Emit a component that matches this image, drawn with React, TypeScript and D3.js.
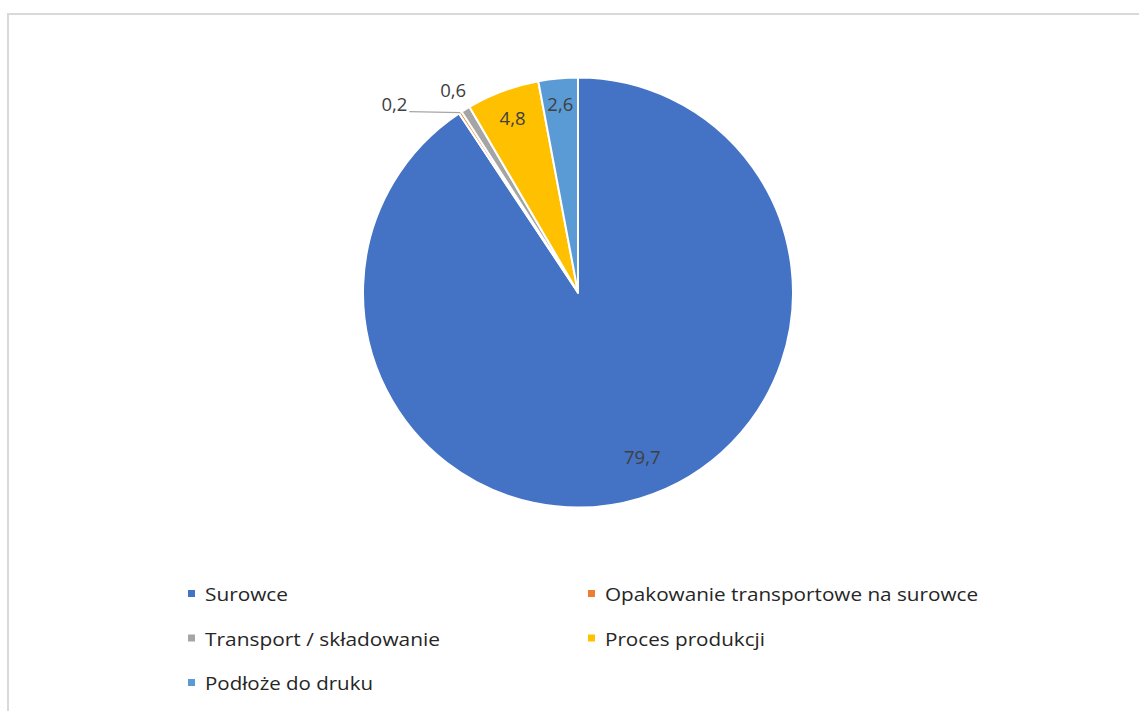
import React from "react";
import * as d3 from "d3";

const categories = [
  "Surowce",
  "Opakowanie transportowe na surowce",
  "Transport / składowanie",
  "Proces produkcji",
  "Podłoże do druku",
];
const values = [79.7, 0.2, 0.6, 4.8, 2.6];
const valueLabels = ["79,7", "0,2", "0,6", "4,8", "2,6"];
const colors = ["#4472C4", "#ED7D31", "#A5A5A5", "#FFC000", "#5B9BD5"];
// label placement: radius factor and angle shift (deg); mode
const labelRadius = [0.82, 1.0, 1.11, 0.87, 0.885];
const labelAngleShift = [-4.6, 0, 0, 0, 0];
const legendOrder = [0, 1, 2, 3, 4];

const W = 1139;
const H = 711;
const cx = 578;
const cy = 292.5;
const R = 215;

export default function App() {
  const pie = d3
    .pie<number>()
    .sort(null)
    .value((d) => d)
    .startAngle(0)
    .endAngle(2 * Math.PI);
  const arcs = pie(values);
  const arcGen = d3.arc<d3.PieArcDatum<number>>().innerRadius(0).outerRadius(R);

  const polar = (angleRad: number, r: number) => [
    cx + Math.sin(angleRad) * r,
    cy - Math.cos(angleRad) * r,
  ];

  const legendX = d3.scalePoint<number>().domain([0, 1]).range([188, 588]);
  const legendY = d3.scaleLinear().domain([0, 2]).range([601, 690]);

  const legendWidths = [83, 373, 235, 160, 168];

  return (
    <svg
      width={W}
      height={H}
      style={{ position: "absolute", left: 0, top: 0, background: "#fff" }}
      fontFamily="'Open Sans', 'Noto Sans', sans-serif"
    >
      <rect x={0} y={0} width={W} height={H} fill="#fff" />
      <rect x={8} y={14} width={1300} height={900} fill="none" stroke="#d9d9d9" strokeWidth={2} />
      <g transform={`translate(${cx},${cy})`}>
        {arcs.map((a, i) => (
          <path key={i} d={arcGen(a) || ""} fill={colors[i]} stroke="#fff" strokeWidth={2} strokeLinejoin="round" />
        ))}
      </g>
      {arcs.map((a, i) => {
        const mid = (a.startAngle + a.endAngle) / 2 + (labelAngleShift[i] * Math.PI) / 180;
        if (i === 1) {
          const [ex, ey] = polar(mid, R);
          const lx = ex - 51;
          return (
            <g key={i}>
              <line x1={lx} y1={ey - 1} x2={ex} y2={ey} stroke="#A6A6A6" strokeWidth={1.2} />
              <text x={lx - 2} y={ey - 2} textAnchor="end" fontSize={18.5} fill="#404040">
                {valueLabels[i]}
              </text>
            </g>
          );
        }
        const [x, y] = polar(mid, R * labelRadius[i]);
        return (
          <text key={i} x={x} y={y} textAnchor="middle" dominantBaseline="central" fontSize={18.5} fill="#404040">
            {valueLabels[i]}
          </text>
        );
      })}
      {legendOrder.map((idx, k) => {
        const col = k % 2;
        const row = Math.floor(k / 2);
        const x = legendX(col) as number;
        const y = legendY(row);
        return (
          <g key={idx}>
            <rect x={x} y={y - 11} width={7} height={7} fill={colors[idx]} />
            <text
              x={x + 17}
              y={y}
              fontSize={18.5}
              fill="#262626"
              textLength={legendWidths[idx]}
              lengthAdjust="spacingAndGlyphs"
            >
              {categories[idx]}
            </text>
          </g>
        );
      })}
    </svg>
  );
}
